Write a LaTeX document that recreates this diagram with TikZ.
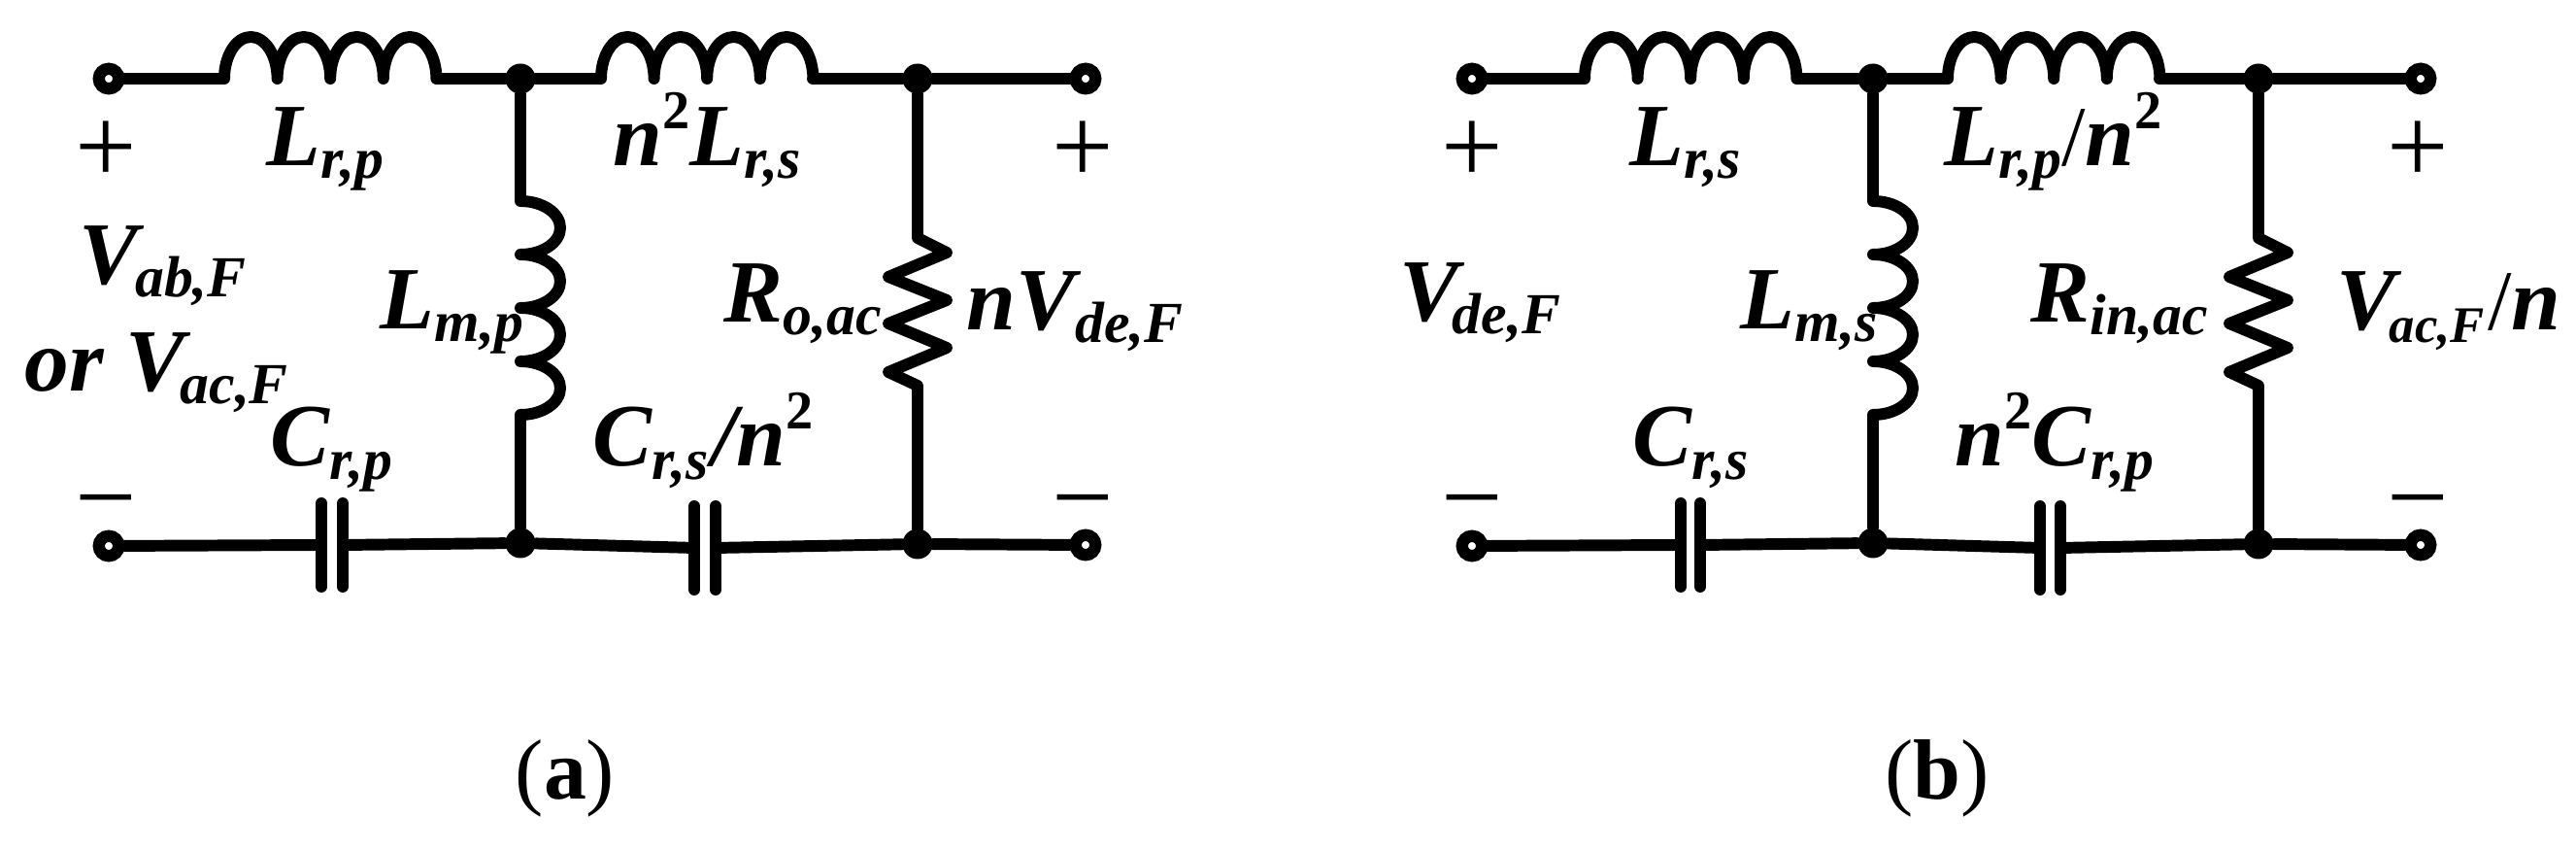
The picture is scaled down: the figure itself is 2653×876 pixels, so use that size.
\documentclass[tikz,border=0pt]{standalone}
\usepackage{fontspec}
\setmainfont{Liberation Serif}
\newcommand{\dn}[2][17]{\raisebox{-3.7pt}{\fontsize{#1}{18}\selectfont #2}}
\newcommand{\up}[1]{\raisebox{11pt}{\fontsize{16}{18}\selectfont\upshape #1}}
\newcommand{\thinslash}{{\mdseries\upshape\fontsize{25}{27}\selectfont /}}
\tikzset{
  wire/.style={line width=3.4pt,line join=round,line cap=round},
  term/.style={circle,draw,fill=white,line width=3.5pt,inner sep=0pt,minimum size=2.05mm},
  dot/.style={circle,fill=black,inner sep=0pt,minimum size=3.1mm},
  lbl/.style={anchor=base west,inner sep=0pt,font=\bfseries\itshape\fontsize{26}{28}\selectfont},
  sign/.style={inner sep=0pt,font=\fontsize{32}{34}\selectfont},
  capt/.style={anchor=base,inner sep=0pt,font=\fontsize{25}{27}\selectfont},
  hcoil/.style={to path={
    arc[start angle=180,end angle=0,x radius=27.3,y radius=43]
    arc[start angle=180,end angle=0,x radius=27.3,y radius=43]
    arc[start angle=180,end angle=0,x radius=27.3,y radius=43]
    arc[start angle=180,end angle=0,x radius=27.3,y radius=43] -- (\tikztotarget)}},
  vcoil/.style={to path={
    arc[start angle=90,end angle=-90,x radius=41,y radius=27.5]
    arc[start angle=90,end angle=-90,x radius=41,y radius=27.5]
    arc[start angle=90,end angle=-90,x radius=41,y radius=27.5]
    arc[start angle=90,end angle=-90,x radius=41,y radius=27.5] -- (\tikztotarget)}},
  zigzag/.style={to path={
    -- ++(30,-15) -- ++(-60,-25) -- ++(60,-24) -- ++(-60,-24)
    -- ++(60,-25) -- ++(-60,-25) -- ++(30,-14) -- (\tikztotarget)}},
  plate/.style={to path={++(0,43) -- ++(0,-86)}}
}
\begin{document}
\begin{tikzpicture}[x=0.01cm,y=0.01cm]
  \useasboundingbox (0,0) rectangle (2653,876);

  % circuit (a)
  \node[term] (Ta1) at (112,795) {};
  \node[term] (Ta2) at (1118,795) {};
  \node[term] (Ta3) at (112,314) {};
  \node[term] (Ta4) at (1118,315) {};
  \node[dot] (Ja1) at (536,795) {};
  \node[dot] (Ja2) at (945,795) {};
  \node[dot] (Ja3) at (536,317) {};
  \node[dot] (Ja4) at (945,316) {};
  \coordinate (La1) at (231,795);
  \coordinate (La2) at (450,795);
  \coordinate (La3) at (619,795);
  \coordinate (La4) at (837,795);
  \coordinate (Lma) at (536,669);
  \coordinate (Lmb) at (536,449);
  \coordinate (Ra1) at (945,631);
  \coordinate (Ra2) at (945,479);
  \coordinate (Ca1) at (331,315);
  \coordinate (Ca2) at (353,315);
  \coordinate (Ca3) at (715,312);
  \coordinate (Ca4) at (737,312);

  \draw[wire] (Ta1) -- (La1) to[hcoil] (La2) -- (Ja1) -- (La3) to[hcoil] (La4) -- (Ja2) -- (Ta2);
  \draw[wire] (Ja1) -- (Lma) to[vcoil] (Lmb) -- (Ja3);
  \draw[wire] (Ja2) -- (Ra1) to[zigzag] (Ra2) -- (Ja4);
  \draw[wire] (Ta3) -- (Ca1) (Ca2) -- (Ja3) -- (Ca3) (Ca4) -- (Ja4) -- (Ta4);
  \draw[wire] (Ca1) to[plate] (Ca1);
  \draw[wire] (Ca2) to[plate] (Ca2);
  \draw[wire] (Ca3) to[plate] (Ca3);
  \draw[wire] (Ca4) to[plate] (Ca4);

  \node[sign] (pa1) at (109,719) {+};
  \node[sign] (pa2) at (1115,719) {+};
  \node[sign] (ma1) at (109,347) {−};
  \node[sign] (ma2) at (1115,347) {−};
  \node[lbl] (tLa1) at (274,705) {L\dn{r,p}};
  \node[lbl] (tLa2) at (631,705) {n\up{2}L\dn{r,s}};
  \node[lbl] (tVa1) at (81,583) {V\kern-1pt\dn{ab,F}};
  \node[lbl] (tVa2) at (25,473) {or V\kern-1.5pt\dn{ac,F}};
  \node[lbl] (tLma) at (391,537) {L\dn{m,p}};
  \node[lbl] (tRa) at (745,544) {R\dn{o,ac}};
  \node[lbl] (tVa3) at (995,536) {nV\dn{de,F}};
  \node[lbl] (tCa1) at (278,396) {C\dn{r,p}};
  \node[lbl] (tCa2) at (610,396) {C\dn{r,s}\kern1pt/n\up{2}};
  \node[capt] (capa) at (582,53) {(\textbf{a})};

  % circuit (b)
  \node[term] (Tb1) at (1516,795) {};
  \node[term] (Tb2) at (2493,795) {};
  \node[term] (Tb3) at (1516,314) {};
  \node[term] (Tb4) at (2493,315) {};
  \node[dot] (Jb1) at (1929,795) {};
  \node[dot] (Jb2) at (2326,795) {};
  \node[dot] (Jb3) at (1929,317) {};
  \node[dot] (Jb4) at (2326,316) {};
  \coordinate (Lb1) at (1632,795);
  \coordinate (Lb2) at (1851,795);
  \coordinate (Lb3) at (2006,795);
  \coordinate (Lb4) at (2224,795);
  \coordinate (Lmc) at (1929,669);
  \coordinate (Lmd) at (1929,449);
  \coordinate (Rb1) at (2326,631);
  \coordinate (Rb2) at (2326,479);
  \coordinate (Cb1) at (1731,315);
  \coordinate (Cb2) at (1751,315);
  \coordinate (Cb3) at (2101,312);
  \coordinate (Cb4) at (2122,312);

  \draw[wire] (Tb1) -- (Lb1) to[hcoil] (Lb2) -- (Jb1) -- (Lb3) to[hcoil] (Lb4) -- (Jb2) -- (Tb2);
  \draw[wire] (Jb1) -- (Lmc) to[vcoil] (Lmd) -- (Jb3);
  \draw[wire] (Jb2) -- (Rb1) to[zigzag] (Rb2) -- (Jb4);
  \draw[wire] (Tb3) -- (Cb1) (Cb2) -- (Jb3) -- (Cb3) (Cb4) -- (Jb4) -- (Tb4);
  \draw[wire] (Cb1) to[plate] (Cb1);
  \draw[wire] (Cb2) to[plate] (Cb2);
  \draw[wire] (Cb3) to[plate] (Cb3);
  \draw[wire] (Cb4) to[plate] (Cb4);

  \node[sign] (pb1) at (1516,719) {+};
  \node[sign] (pb2) at (2490,719) {+};
  \node[sign] (mb1) at (1516,347) {−};
  \node[sign] (mb2) at (2490,347) {−};
  \node[lbl] (tLb1) at (1678,705) {L\dn{r,s}};
  \node[lbl] (tLb2) at (2002,705) {L\dn{r,p}\thinslash n\up{2}};
  \node[lbl] (tVb1) at (1441,545) {V\kern-2pt\dn{de,F}};
  \node[lbl] (tLmb) at (1792,537) {L\dn{m,s}};
  \node[lbl] (tRb) at (2091,544) {R\dn{in,ac}};
  \node[lbl] (tVb2) at (2406,536) {V\kern-2pt\dn[15]{ac,F}\kern1pt\thinslash n};
  \node[lbl] (tCb1) at (1681,396) {C\dn{r,s}};
  \node[lbl] (tCb2) at (2013,396) {n\up{2}C\dn{r,p}};
  \node[capt] (capb) at (1995,53) {(\textbf{b})};
\end{tikzpicture}
\end{document}
